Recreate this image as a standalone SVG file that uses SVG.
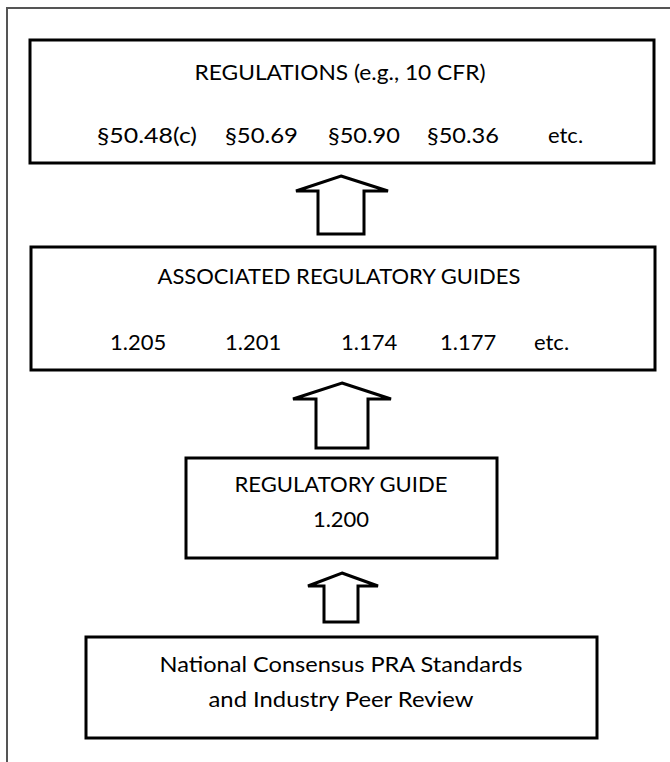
<svg xmlns="http://www.w3.org/2000/svg" width="670" height="762" viewBox="0 0 670 762">
<style>
.frame{fill:none;stroke:#555;stroke-width:2}
.box{fill:#fff;stroke:#000;stroke-width:3}
.arr{fill:#fff;stroke:#000;stroke-width:3;stroke-linejoin:miter}
text{font-family:Lato,"Open Sans","Liberation Sans",sans-serif;font-size:22px;fill:#000}
.c{text-anchor:middle}
</style>
<rect width="670" height="762" fill="#fff"/>
<path class="frame" d="M7,762 V8 H670"/>
<g id="connectors">
<path class="arr" d="M341,176 L388,191 H364 V234 H318 V191 H296 Z"/>
<path class="arr" d="M342,383 L391,399 H368 V448 H316 V399 H293 Z"/>
<path class="arr" d="M342,573 L378,586 H358 V622 H324 V586 H308 Z"/>
</g>
<g id="regulations">
<rect class="box" x="30" y="40" width="624" height="123"/>
<text class="c" x="340" y="80" textLength="291" lengthAdjust="spacingAndGlyphs">REGULATIONS (e.g., 10 CFR)</text>
<text x="97" y="143" textLength="100" lengthAdjust="spacingAndGlyphs">§50.48(c)</text>
<text x="225" y="143" textLength="73" lengthAdjust="spacingAndGlyphs">§50.69</text>
<text x="328" y="143" textLength="72" lengthAdjust="spacingAndGlyphs">§50.90</text>
<text x="427" y="143" textLength="72" lengthAdjust="spacingAndGlyphs">§50.36</text>
<text x="548" y="143">etc.</text>
</g>
<g id="associated">
<rect class="box" x="31" y="247" width="624" height="123"/>
<text class="c" x="339" y="284" textLength="363" lengthAdjust="spacingAndGlyphs">ASSOCIATED REGULATORY GUIDES</text>
<text x="110" y="350">1.205</text>
<text x="225" y="350">1.201</text>
<text x="341" y="350">1.174</text>
<text x="440" y="350">1.177</text>
<text x="534" y="350">etc.</text>
</g>
<g id="rg1200">
<rect class="box" x="186" y="458" width="311" height="100"/>
<text class="c" x="341" y="492" textLength="213" lengthAdjust="spacingAndGlyphs">REGULATORY GUIDE</text>
<text class="c" x="341" y="527">1.200</text>
</g>
<g id="standards">
<rect class="box" x="86" y="637" width="511" height="101"/>
<text class="c" x="341" y="672" textLength="363" lengthAdjust="spacingAndGlyphs">National Consensus PRA Standards</text>
<text class="c" x="341" y="707" textLength="265" lengthAdjust="spacingAndGlyphs">and Industry Peer Review</text>
</g>
</svg>
